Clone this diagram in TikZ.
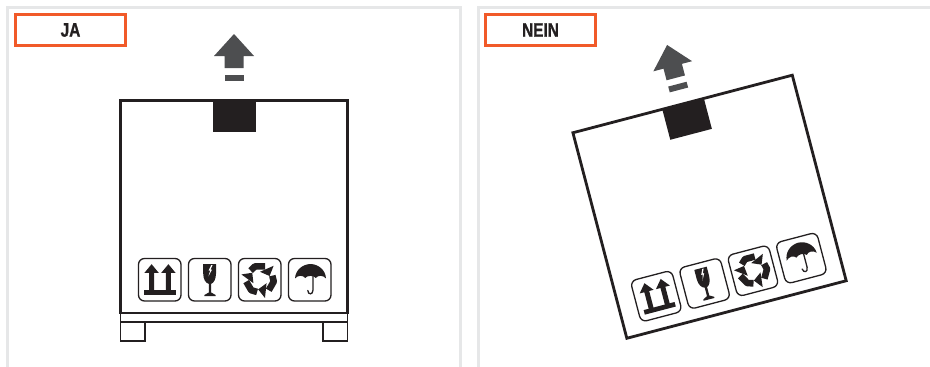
\documentclass[tikz,border=0pt]{standalone}
\usepackage{fontspec}
\usepackage{graphicx}
\setmainfont{Liberation Sans}
\newfontfamily\tagfont{Liberation Sans Bold}[FakeBold=1.2]
\definecolor{ink}{HTML}{231F20}
\definecolor{arrowgrey}{HTML}{4D4E50}
\definecolor{framegrey}{HTML}{E6E7E8}
\definecolor{tagorange}{HTML}{F15A29}
\tikzset{
  panelline/.style={draw=framegrey,line width=3pt},
  tagbox/.style={draw=tagorange,line width=3pt,fill=white,minimum width=110pt,minimum height=30.5pt,inner sep=0pt,font=\tagfont\fontsize{19.5pt}{20pt}\selectfont,text=ink},
  cartonline/.style={draw=ink,line width=2.8pt,line join=miter},
  thinline/.style={draw=ink,line width=1.2pt},
  iconbox/.style={draw=ink,line width=1.3pt,rounded corners=6pt},
  inkfill/.style={fill=ink,draw=none},
  greyfill/.style={fill=arrowgrey,draw=none}
}
\newcommand{\upsign}{%
  \fill[greyfill] (234,34) -- (254,56) -- (243.5,56) -- (243.5,68) -- (224.5,68) -- (224.5,56) -- (214,56) -- cycle;
  \fill[greyfill] (224.5,74.5) rectangle (243.5,80.5);
}
\newcommand{\recyclearrow}{%
  \draw[ink,line width=6.6pt,line join=round] (-9.4,-8.8) -- (-5,-13) -- (5,-13);
  \fill[inkfill] (0,-7.6) -- (13.6,-13.6) -- (9.6,-3.4) -- cycle;
}
\newcommand{\cartonbody}{%
  \fill[inkfill] (213,100) rectangle (256,132);
  \draw[cartonline] (120.6,100.5) rectangle (347.4,313);
  % icon 1: this way up
  \draw[iconbox] (138.5,258.5) rectangle (181,301);
  \fill[inkfill] (144,290) rectangle (176,294.7);
  \fill[inkfill] (149.2,291) -- (149.2,272.9) -- (144.4,272.9) -- (151.6,264.2) -- (158.8,272.9) -- (154.2,272.9) -- (154.2,291) -- cycle;
  \fill[inkfill] (165.9,291) -- (165.9,272.9) -- (161.2,272.9) -- (168.4,264.2) -- (175.6,272.9) -- (170.9,272.9) -- (170.9,291) -- cycle;
  % icon 2: fragile
  \draw[iconbox] (188.5,258.5) rectangle (231,301);
  \fill[inkfill] (203.2,264) -- (216,264) -- (216,273.5) .. controls (216,279.5) and (213.5,283) .. (211.2,283.8) -- (211.2,292.5) -- (215.6,295) -- (215.6,296.2) -- (204.4,296.2) -- (204.4,295) -- (208.8,292.5) -- (208.8,283.8) .. controls (205.7,283) and (203.2,279.5) .. (203.2,273.5) -- cycle;
  \fill[white] (211.2,265) -- (208.6,270.6) -- (210.2,270.6) -- (208.4,276.4) -- (212,269.6) -- (210.5,269.6) -- (212.6,265) -- cycle;
  % icon 3: recycling
  \draw[iconbox] (238.5,258.5) rectangle (281,301);
  \begin{scope}[shift={(260,279.4)}]
    \recyclearrow
    \begin{scope}[rotate=-120]\recyclearrow\end{scope}
    \begin{scope}[rotate=-240]\recyclearrow\end{scope}
  \end{scope}
  % icon 4: umbrella
  \draw[iconbox] (288.5,258.5) rectangle (331,301);
  \draw[ink,line width=1.3pt,line cap=round] (313,276) -- (313,290) .. controls (313,295) and (308,295) .. (307.8,290.5);
  \fill[inkfill] (310.5,264) .. controls (318.5,264.2) and (325.5,270) .. (326,278.4) .. controls (323,275) and (318,275) .. (315.8,278) .. controls (314,275.2) and (307,275.2) .. (305.2,278) .. controls (303,275) and (298,275) .. (295,278.4) .. controls (295.5,270) and (302.5,264.2) .. (310.5,264) -- cycle;
}
\begin{document}
\begin{tikzpicture}[x=1pt,y=-1pt]
\useasboundingbox (0,0) rectangle (930,367);
\fill[white] (0,0) rectangle (930,367);
% panels
\draw[panelline] (7.5,367) -- (7.5,7.5) -- (460.5,7.5) -- (460.5,367);
\draw[panelline] (478.5,367) -- (478.5,7.5) -- (930,7.5);
% tags
\node[tagbox] (ja) at (70.5,30) {\scalebox{0.79}[1]{JA}};
\node[tagbox] (nein) at (540.5,30) {\scalebox{0.79}[1]{NEIN}};
% left carton
\upsign
\cartonbody
\draw[thinline] (120.5,313) rectangle (347.5,322);
\draw[thinline] (120.5,322) rectangle (145,341);
\draw[thinline] (323,322) rectangle (347.5,341);
% right carton
\begin{scope}[shift={(709.5,206.5)},rotate=14.7,shift={(-234,-206.5)}]
  \cartonbody
  \begin{scope}[shift={(0,5.5)}]
    \upsign
  \end{scope}
\end{scope}
\end{tikzpicture}
\end{document}
